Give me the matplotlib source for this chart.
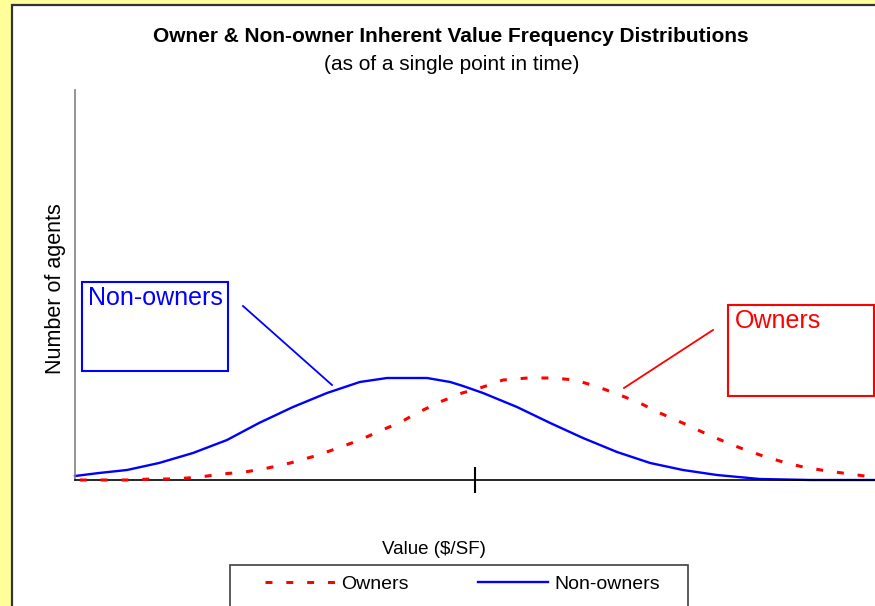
import matplotlib
matplotlib.use("Agg")
import matplotlib.pyplot as plt
from matplotlib.patches import Rectangle
from matplotlib.lines import Line2D

plt.rcParams['font.family'] = ['Liberation Sans', 'DejaVu Sans']
plt.rcParams['lines.scale_dashes'] = False

# ---- data (value axis in arbitrary units, counts in arbitrary units) ----
nonowner_x = [0, 3, 6.5, 10.5, 14.75, 19, 23, 27.25, 31.5, 35.6, 39, 44, 46.9,
              48.5, 51, 55.25, 59.4, 63.5, 67.75, 71.9, 76, 80.25, 85.6, 91.9, 100]
nonowner_y = [4, 7, 10, 17, 27, 40, 57, 73, 87, 98, 102, 102, 98,
              94, 87, 73, 57, 42, 28, 17, 10, 5, 1, 0, 0]

owner_x = [0.6, 3.5, 6.5, 9.6, 12.5, 15.6, 18.4, 21.25, 24.1, 26.9, 30, 32.9,
           35.6, 38.4, 40.75, 42.75, 45.6, 48.4, 51, 53.5, 56.6, 59.75, 62.5,
           65.4, 68.1, 70.6, 73.1, 76.25, 78.4, 81, 83.5, 86, 88.5, 91, 94,
           96.9, 99.6]
owner_y = [0, 0, 0, 1, 1, 3, 6, 8, 12, 17, 24, 32,
           40, 50, 58, 67, 78, 87, 93, 100, 102, 102, 100,
           93, 85, 77, 67, 56, 48, 39, 31, 24, 18, 13, 9,
           6, 3]

tick_positions = [50]
title = "Owner & Non-owner Inherent Value Frequency Distributions"
subtitle = "(as of a single point in time)"
xlabel = "Value ($/SF)"
ylabel = "Number of agents"
series_names = ["Owners", "Non-owners"]

W, H = 875, 606


def fx(px):
    return px / W


def fy(py):
    return 1 - py / H


fig = plt.figure(figsize=(W / 100, H / 100), dpi=100)
fig.patch.set_facecolor('#FFFF99')

# white chart panel with dark border
fig.add_artist(Rectangle((fx(12), -0.05), 1.0, fy(5) + 0.05, transform=fig.transFigure,
                         facecolor='white', edgecolor='#333333', linewidth=1.6, zorder=-2))

# legend frame (extends past the bottom edge)
fig.add_artist(Rectangle((fx(230), -0.05), (688 - 230) / W, fy(565) + 0.05,
                         transform=fig.transFigure, facecolor='white',
                         edgecolor='#404040', linewidth=1.2, zorder=-1))

ax = fig.add_axes([fx(75), fy(480), 800 / W, 390 / H])
ax.set_facecolor('none')
ax.set_xlim(0, 100)
ax.set_ylim(0, 390)

ax.plot(owner_x, owner_y, color='#FF0000', linewidth=2.2, dashes=(5, 10),
        label=series_names[0], clip_on=False, zorder=3)
ax.plot(nonowner_x, nonowner_y, color='#0000FF', linewidth=1.7,
        label=series_names[1], clip_on=False, zorder=2)

for s in ['top', 'right']:
    ax.spines[s].set_visible(False)
ax.spines['left'].set_color('#808080')
ax.spines['left'].set_linewidth(1.2)
ax.spines['bottom'].set_color('black')
ax.spines['bottom'].set_linewidth(1.2)

ax.set_yticks([])
ax.set_xticks(tick_positions)
ax.set_xticklabels([''] * len(tick_positions))
ax.tick_params(axis='x', direction='inout', length=19, width=1.5, color='black')

ax.set_ylabel(ylabel, fontsize=15.5, va='center')
ax.yaxis.set_label_coords(-0.025, 0.49)
ax.set_xlabel(xlabel, fontsize=13.5, va='center')
ax.xaxis.set_label_coords((434 - 75) / 800, (480 - 549) / 390)

fig.text(fx(451), fy(36), title, fontsize=15, fontweight='bold', ha='center', va='center')
fig.text(fx(452), fy(65), subtitle, fontsize=15, ha='center', va='center')

# annotation boxes
fig.add_artist(Rectangle((fx(82), fy(371)), (228 - 82) / W, (371 - 282) / H,
                         transform=fig.transFigure, facecolor='white',
                         edgecolor='#0000FF', linewidth=1.5, zorder=4))
fig.text(fx(88), fy(286), "Non-owners", fontsize=18, color='#0000FF',
         ha='left', va='top', zorder=5)
fig.add_artist(Line2D([fx(243), fx(332)], [fy(306), fy(385)], transform=fig.transFigure,
                      color='#0000FF', linewidth=1.3, zorder=4))

fig.add_artist(Rectangle((fx(728), fy(396)), (874 - 728) / W, (396 - 305) / H,
                         transform=fig.transFigure, facecolor='white',
                         edgecolor='#FF0000', linewidth=1.5, zorder=4))
fig.text(fx(735), fy(309), "Owners", fontsize=18, color='#FF0000',
         ha='left', va='top', zorder=5)
fig.add_artist(Line2D([fx(713), fx(624)], [fy(330), fy(388)], transform=fig.transFigure,
                      color='#FF0000', linewidth=1.3, zorder=4))

# legend
leg = ax.legend(loc='center left', bbox_to_anchor=(fx(265), fy(584)),
                bbox_transform=fig.transFigure, ncol=2, frameon=False,
                fontsize=14, handlelength=3.6, handletextpad=0.3,
                columnspacing=3.6, borderpad=0, borderaxespad=0)
leg.set_zorder(10)

fig.savefig('out.png', dpi=100, facecolor=fig.get_facecolor())
